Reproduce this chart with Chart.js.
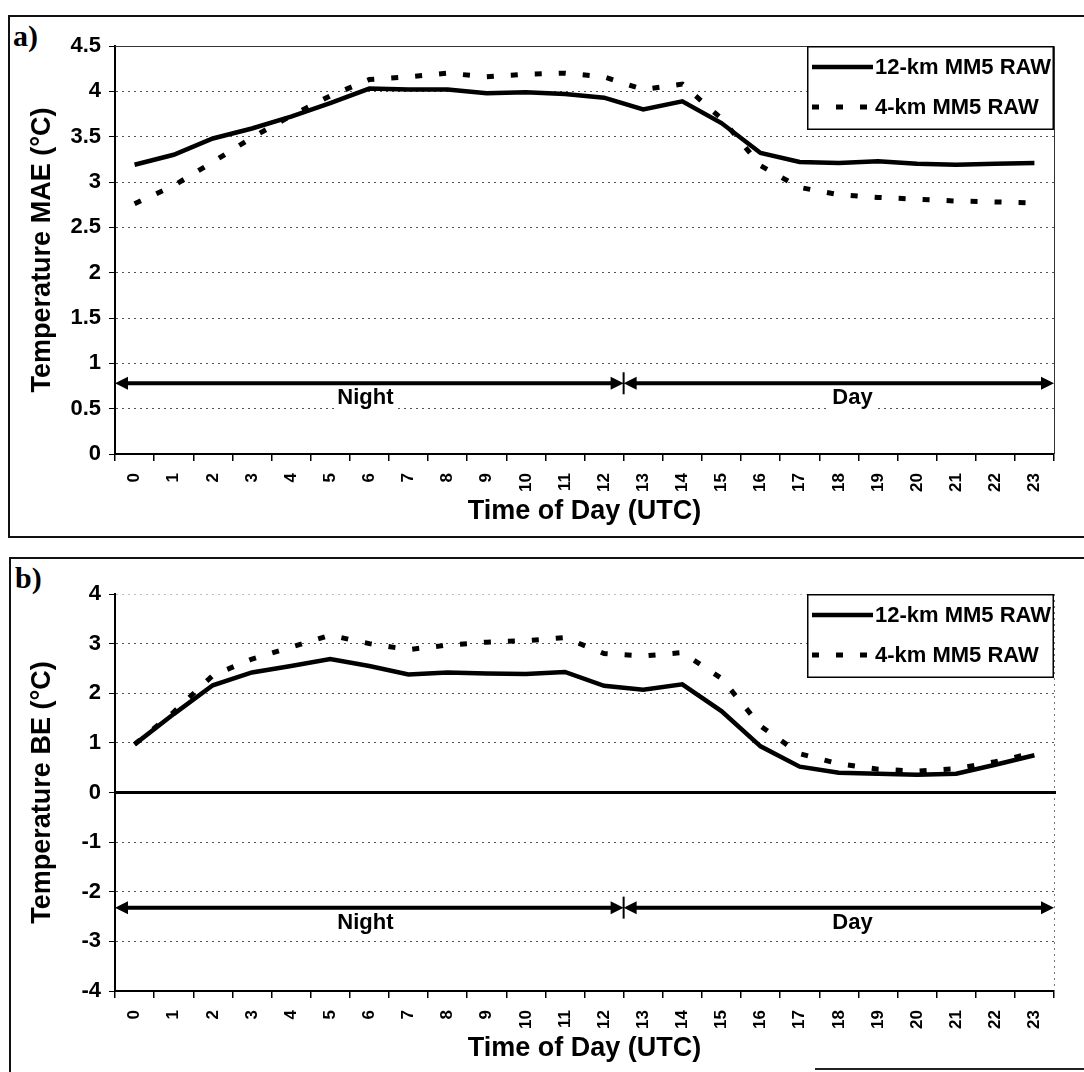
<!DOCTYPE html>
<html><head><meta charset="utf-8">
<script src="https://cdn.jsdelivr.net/npm/chart.js@4.4.0/dist/chart.umd.min.js"></script>
<style>
html,body{margin:0;padding:0;background:#fff;}
body{width:1084px;height:1072px;position:relative;overflow:hidden;}
.box{position:absolute;border:2px solid #111;box-sizing:border-box;}
.wrap{position:absolute;left:0;width:1084px;}
.tag{position:absolute;font-family:"Liberation Serif","Times New Roman",serif;font-weight:bold;font-size:30px;line-height:1;color:#000;}
</style></head>
<body>
<div class="box" style="left:8px;top:15px;width:1090px;height:523px;"></div>
<div class="box" style="left:9px;top:557px;width:1090px;height:530px;border-bottom:none;"></div>
<div style="position:absolute;left:815px;top:1068px;width:269px;height:2px;background:#222"></div>
<div class="tag" style="left:13px;top:21px">a)</div>
<div class="tag" style="left:15px;top:563px">b)</div>
<div class="wrap" style="top:0;height:545px"><canvas id="ca"></canvas></div>
<div class="wrap" style="top:545px;height:527px"><canvas id="cb"></canvas></div>
<script>
// ---- data ----
const hours = ['0','1','2','3','4','5','6','7','8','9','10','11','12','13','14','15','16','17','18','19','20','21','22','23'];
const seriesNames = ['12-km MM5 RAW', '4-km MM5 RAW'];
const mae12km = [3.19,3.30,3.48,3.59,3.72,3.87,4.03,4.02,4.02,3.98,3.99,3.97,3.93,3.80,3.89,3.65,3.32,3.22,3.21,3.23,3.20,3.19,3.20,3.21];
const mae4km  = [2.76,2.96,3.22,3.49,3.73,3.95,4.13,4.16,4.20,4.16,4.19,4.20,4.16,4.02,4.08,3.70,3.18,2.94,2.86,2.83,2.81,2.79,2.78,2.77];
const be12km  = [0.97,1.58,2.16,2.42,2.55,2.69,2.55,2.38,2.42,2.40,2.39,2.43,2.15,2.07,2.18,1.64,0.93,0.52,0.40,0.38,0.36,0.38,0.56,0.75];
const be4km   = [0.97,1.62,2.36,2.69,2.93,3.17,3.00,2.88,2.97,3.03,3.06,3.12,2.80,2.75,2.82,2.30,1.34,0.78,0.58,0.47,0.43,0.48,0.62,0.80];
const maeTicks = [0,0.5,1,1.5,2,2.5,3,3.5,4,4.5];
const beTicks  = [-4,-3,-2,-1,0,1,2,3,4];
const periodLabels = ['Night','Day'];
const periodLabelHour = [5.9, 18.35];   // category position of the period labels
const dayNightSplit = 12.5;             // boundary between hour 12 and 13
const maeArrowValue = 0.78;
const beArrowValue = -2.32;

const FONT = '"Liberation Sans", Arial, Helvetica, sans-serif';
Chart.defaults.font.family = FONT;
Chart.defaults.color = '#000';

const decor = {
  id: 'decor',
  beforeDatasetsDraw(chart, args, o) {
    const {ctx, chartArea: a, scales: {y}} = chart;
    ctx.save();
    if (o.frame === 'solid') {
      ctx.strokeStyle = '#333'; ctx.lineWidth = 1;
      ctx.beginPath();
      ctx.moveTo(a.left, a.top + 0.5); ctx.lineTo(a.right + 0.5, a.top + 0.5); ctx.lineTo(a.right + 0.5, a.bottom);
      ctx.stroke();
    } else {
      ctx.strokeStyle = '#777'; ctx.lineWidth = 1; ctx.setLineDash([2, 4]);
      ctx.beginPath(); ctx.moveTo(a.right + 0.5, a.top); ctx.lineTo(a.right + 0.5, a.bottom); ctx.stroke();
      ctx.setLineDash([]);
    }
    if (o.zeroLine) {
      const py = y.getPixelForValue(0);
      ctx.strokeStyle = '#000'; ctx.lineWidth = 3;
      ctx.beginPath(); ctx.moveTo(a.left, py); ctx.lineTo(a.right + 2, py); ctx.stroke();
    }
    ctx.restore();
  },
  afterDatasetsDraw(chart, args, o) {
    const {ctx, chartArea: a, scales: {x, y}} = chart;
    ctx.save();
    const py = y.getPixelForValue(o.arrowY);
    const xl = x.getPixelForValue(-0.5), xr = x.getPixelForValue(hours.length - 0.5), xm = x.getPixelForValue(dayNightSplit);
    // period labels with white backing
    ctx.font = 'bold 22px ' + FONT; ctx.textAlign = 'center'; ctx.textBaseline = 'middle';
    periodLabels.forEach((t, i) => {
      const tx = x.getPixelForValue(periodLabelHour[i]), ty = py + 15;
      const w = ctx.measureText(t).width;
      ctx.fillStyle = '#fff'; ctx.fillRect(tx - w / 2 - 3, ty - 11, w + 6, 25);
      ctx.fillStyle = '#000'; ctx.fillText(t, tx, ty);
    });
    // arrows
    const L = 13, W = 13;
    ctx.strokeStyle = '#000'; ctx.fillStyle = '#000'; ctx.lineWidth = 4;
    ctx.beginPath();
    ctx.moveTo(xl + L - 1, py); ctx.lineTo(xm - L + 1, py);
    ctx.moveTo(xm + L - 1, py); ctx.lineTo(xr - L + 1, py);
    ctx.stroke();
    const head = (tip, dir) => {
      ctx.beginPath(); ctx.moveTo(tip, py);
      ctx.lineTo(tip - dir * L, py - W / 2); ctx.lineTo(tip - dir * L, py + W / 2);
      ctx.closePath(); ctx.fill();
    };
    head(xl, -1); head(xm, 1); head(xm, -1); head(xr, 1);
    ctx.lineWidth = 2;
    ctx.beginPath(); ctx.moveTo(xm, py - 11); ctx.lineTo(xm, py + 11); ctx.stroke();
    // legend
    const lw = 247, lh = 84, bx = a.right - lw, by = a.top;
    ctx.fillStyle = '#fff'; ctx.fillRect(bx, by, lw, lh);
    ctx.strokeStyle = '#000'; ctx.lineWidth = 1.5; ctx.strokeRect(bx + 0.75, by + 0.75, lw - 1.5, lh - 1.5);
    chart.data.datasets.forEach((ds, i) => {
      const ly = by + 21 + i * 40;
      ctx.strokeStyle = ds.borderColor; ctx.lineWidth = ds.borderWidth; ctx.lineCap = 'butt';
      ctx.setLineDash(ds.borderDash || []);
      ctx.beginPath(); ctx.moveTo(bx + 5, ly); ctx.lineTo(bx + 66, ly); ctx.stroke();
      ctx.setLineDash([]);
      ctx.fillStyle = '#000'; ctx.font = 'bold 22px ' + FONT; ctx.textAlign = 'left'; ctx.textBaseline = 'middle';
      ctx.fillText(ds.label, bx + 68, ly + 1);
    });
    ctx.restore();
  }
};

function makePanel(id, v12, v4, ticks, yTitle, opts) {
  return new Chart(document.getElementById(id), {
    type: 'line',
    data: {
      labels: hours,
      datasets: [
        {label: seriesNames[0], data: v12, borderColor: '#000', borderWidth: 4.5, pointRadius: 0, tension: 0, fill: false},
        {label: seriesNames[1], data: v4, borderColor: '#000', borderWidth: 5, borderDash: [7, 17], borderCapStyle: 'butt', pointRadius: 0, tension: 0, fill: false}
      ]
    },
    options: {
      responsive: true, maintainAspectRatio: false, animation: false,
      layout: {padding: opts.padding},
      plugins: {legend: {display: false}, tooltip: {enabled: false}, decor: opts.decor},
      scales: {
        x: {
          type: 'category', offset: true,
          grid: {display: true, drawOnChartArea: false, offset: true, drawTicks: true, tickLength: 7, color: '#000', tickColor: '#000', lineWidth: 1.5},
          border: {display: true, color: '#000', width: 2},
          ticks: {autoSkip: false, minRotation: 90, maxRotation: 90, padding: 12, color: '#000', font: {size: 17, weight: 'bold'}},
          title: {display: true, text: 'Time of Day (UTC)', color: '#000', font: {size: 27, weight: 'bold'}, padding: {top: 0, bottom: 0}},
          afterFit(s) { s.height = 74; }
        },
        y: {
          min: ticks[0], max: ticks[ticks.length - 1],
          afterBuildTicks(s) { s.ticks = ticks.map(v => ({value: v})); },
          ticks: {color: '#000', padding: 8, font: {size: 22, weight: 'bold'}, callback: v => String(v)},
          grid: {color: c => (opts.faintTop && c.tick && c.tick.value === ticks[ticks.length - 1]) ? '#bbb' : '#555', lineWidth: 1, tickLength: 6, tickColor: '#000', drawTicks: true},
          border: {display: true, color: '#000', width: 2, dash: [2, 4]},
          title: {display: true, text: yTitle, color: '#000', font: {size: 27, weight: 'bold'}, padding: {top: 6, bottom: 0}},
          afterFit(s) { s.width = 95; }
        }
      }
    },
    plugins: [decor]
  });
}

makePanel('ca', mae12km, mae4km, maeTicks, 'Temperature MAE (°C)', {
  padding: {left: 20, right: 30, top: 46, bottom: 17},
  faintTop: false,
  decor: {frame: 'solid', zeroLine: false, arrowY: maeArrowValue}
});
makePanel('cb', be12km, be4km, beTicks, 'Temperature BE (°C)', {
  padding: {left: 20, right: 30, top: 49, bottom: 7},
  faintTop: true,
  decor: {frame: 'dotted', zeroLine: true, arrowY: beArrowValue}
});
</script>
</body></html>
